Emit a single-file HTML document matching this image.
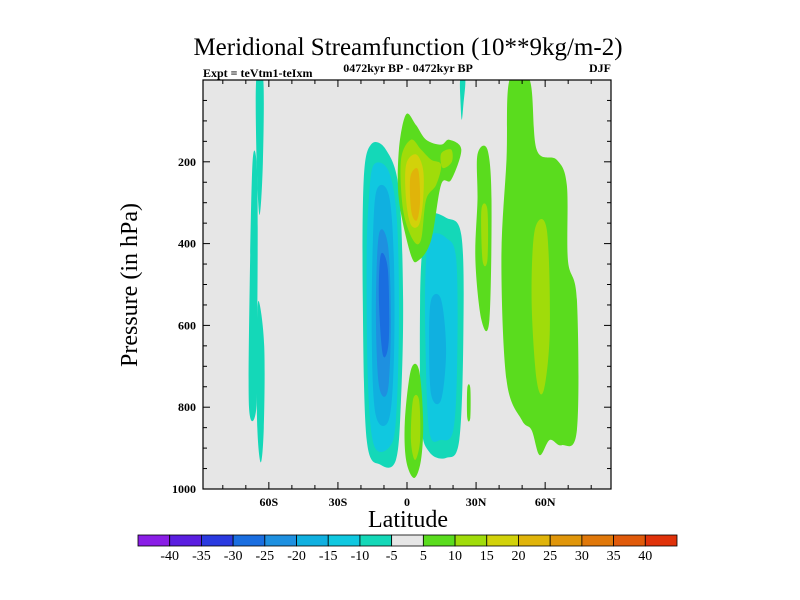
<!DOCTYPE html>
<html><head><meta charset="utf-8">
<style>
body{margin:0;background:#fff;}
svg{display:block;font-family:"Liberation Serif",serif;}
</style></head>
<body>
<svg id="chart" width="800" height="600" viewBox="0 0 800 600">
<text x="408" y="55" text-anchor="middle" font-size="25">Meridional Streamfunction (10**9kg/m-2)</text>
<text x="203" y="77" font-size="12" font-weight="bold">Expt = teVtm1-teIxm</text>
<text x="408" y="72" text-anchor="middle" font-size="12" font-weight="bold">0472kyr BP - 0472kyr BP</text>
<text x="611" y="72" text-anchor="end" font-size="12" font-weight="bold">DJF</text>
<rect x="203" y="80" width="408" height="409" fill="#e6e6e6"/>
<g id="fills"></g>
<rect x="203" y="80" width="408" height="409" fill="none" stroke="#000" stroke-width="1.2"/>
<g id="axes"></g>
<text x="408" y="527" text-anchor="middle" font-size="24">Latitude</text>
<text transform="translate(137,285) rotate(-90)" text-anchor="middle" font-size="24">Pressure (in hPa)</text>
<g id="colorbar"></g>
</svg>
<script>
const levelColors=["#8a1ee6","#5a1ee0","#2a3ae0","#1a6ee0","#1e90e0","#10b0e0","#10c8e0","#14d8b8","#e6e6e6","#5adc1e","#a0dc0a","#d2d20a","#e0b40a","#e0960a","#e0780a","#e05a0a","#e0320a"];
const levelLabels=["-40","-35","-30","-25","-20","-15","-10","-5","5","10","15","20","25","30","35","40"];
const xTickLats=[-60,-30,0,30,60];
const xTickLabels=["60S","30S","0","30N","60N"];
const yTickVals=[200,400,600,800,1000];
// contour regions: level index into levelColors, polygon of [lat, pressure]
const regionLevels=[7,7,7,7,9,
 7,6,5,4,3,
 7,6,5,
 9,10,11,12,10,
 9,10,
 9,10,
 9,10];
const regionPolys=[
 [[-65.5,0],[-62.4,0],[-62.6,200],[-64,330],[-65.3,200]],
 [[-67,195],[-65,240],[-65,600],[-65.5,805],[-68.6,800],[-68.3,500]],
 [[-64.5,540],[-62,650],[-62.2,850],[-63.5,935],[-65,850],[-65.3,650]],
 [[23.1,0],[25.3,0],[24.5,60],[23.8,97],[23.3,60]],
 [[26.2,753],[27.5,753],[27.5,826],[26.2,826]],
 [[-15.7,158],[-9.2,170],[-3.5,268],[-1.7,537],[-2.6,782],[-4.8,929],[-11.4,941],[-17.5,880],[-19.2,537],[-18.8,244]],
 [[-14.4,207],[-7.9,224],[-4.4,341],[-3.5,586],[-4.8,831],[-7.9,899],[-14.4,892],[-17,734],[-17.5,440],[-16.6,293]],
 [[-13.1,268],[-7.9,281],[-5.7,440],[-5.7,684],[-7.9,831],[-13.6,819],[-15.3,636],[-14.8,391]],
 [[-12.2,378],[-8.3,403],[-7,586],[-8.3,758],[-12.2,746],[-13.5,562]],
 [[-11.4,427],[-8.3,464],[-7.9,636],[-10.5,672],[-12.2,537]],
 [[9.6,329],[17,337],[23.6,379],[24.5,611],[22.7,880],[17,924],[9.6,909],[6.1,831],[5.7,537],[7,391]],
 [[10.5,379],[17,386],[21.4,440],[21.8,684],[20.1,856],[14.8,880],[9.6,856],[7.9,611],[8.3,440]],
 [[10.5,537],[14.8,537],[17,660],[14.8,782],[10.5,770],[9.6,636]],
 [[-3.5,170],[-0.4,84],[3.9,110],[8.3,146],[14.8,158],[18.3,146],[23.6,170],[19.2,244],[14.8,256],[10.5,391],[5.2,440],[1.7,428],[-3.5,293]],
 [[-2.6,195],[1.7,146],[6.1,170],[10.5,195],[14.8,207],[12.7,256],[8.3,293],[6.1,391],[2.6,391],[-1.7,317]],
 [[-0.4,207],[3.9,182],[7,219],[7,293],[5.2,354],[1.7,354],[-0.4,293]],
 [[1.7,231],[4.8,219],[5.7,293],[4.4,342],[2.2,330],[1.3,280]],
 [[14.8,180],[19.2,170],[19.5,200],[15.5,215]],
 [[1.7,709],[5.2,709],[7,831],[6.1,929],[3.1,973],[-0.4,929],[-0.9,831]],
 [[2.6,782],[5.2,782],[5.7,880],[3.5,929],[1.7,880]],
 [[30.6,182],[34.9,170],[36.7,293],[35.8,586],[32.3,586],[29.7,440],[30.6,293]],
 [[32.3,317],[34.9,317],[34.9,440],[32.8,440]],
 [[44.5,0],[53.3,0],[56.3,170],[65,195],[69.4,256],[69.9,440],[73.8,537],[73.8,856],[67.2,893],[62,880],[57.6,917],[54.1,856],[49.8,831],[43.2,733],[41,440],[43.2,195]],
 [[55.5,366],[60.7,366],[62,611],[59.4,758],[56.3,733],[54.1,537]]
];
const NS="http://www.w3.org/2000/svg";
const X0=203,X1=611,Y0=80,Y1=489,LATMIN=-88.6,LATMAX=88.6;
function xs(lat){return X0+(lat-LATMIN)/(LATMAX-LATMIN)*(X1-X0);}
function ys(p){return Y0+p/1000*(Y1-Y0);}
function smoothPath(pts){
 const n=pts.length;let d="M"+pts[0][0].toFixed(1)+","+pts[0][1].toFixed(1);
 for(let i=0;i<n;i++){
  const p0=pts[(i-1+n)%n],p1=pts[i],p2=pts[(i+1)%n],p3=pts[(i+2)%n];
  const c1=[p1[0]+(p2[0]-p0[0])/6,p1[1]+(p2[1]-p0[1])/6];
  const c2=[p2[0]-(p3[0]-p1[0])/6,p2[1]-(p3[1]-p1[1])/6];
  d+=" C"+c1[0].toFixed(1)+","+c1[1].toFixed(1)+" "+c2[0].toFixed(1)+","+c2[1].toFixed(1)+" "+p2[0].toFixed(1)+","+p2[1].toFixed(1);
 }
 return d+"Z";
}
const fills=document.getElementById('fills');
const clip=document.createElementNS(NS,'clipPath');clip.setAttribute('id','pc');
const cr=document.createElementNS(NS,'rect');cr.setAttribute('x',X0);cr.setAttribute('y',Y0);cr.setAttribute('width',X1-X0);cr.setAttribute('height',Y1-Y0);
clip.appendChild(cr);fills.appendChild(clip);fills.setAttribute('clip-path','url(#pc)');
regionPolys.forEach((poly,i)=>{
 const path=document.createElementNS(NS,'path');
 path.setAttribute('d',smoothPath(poly.map(q=>[xs(q[0]),ys(q[1])])));
 path.setAttribute('fill',levelColors[regionLevels[i]]);
 
 
 fills.appendChild(path);
});
const axes=document.getElementById('axes');
function line(x1,y1,x2,y2,name){const l=document.createElementNS(NS,'line');l.setAttribute('x1',x1);l.setAttribute('y1',y1);l.setAttribute('x2',x2);l.setAttribute('y2',y2);l.setAttribute('stroke','#000');l.setAttribute('stroke-width','1');
 
 
 axes.appendChild(l);}
function text(x,y,s,anchor,size,name,parent){const t=document.createElementNS(NS,'text');t.setAttribute('x',x);t.setAttribute('y',y);t.setAttribute('text-anchor',anchor);t.setAttribute('font-size',size);t.setAttribute('font-weight','bold');t.textContent=s;
 
 
 parent.appendChild(t);}
for(let lat=-80;lat<=80;lat+=10){const x=xs(lat);const major=lat%30===0;line(x,Y1,x,Y1-(major?7:4),'x-tick');line(x,Y0,x,Y0+(major?7:4),'x-tick');}
xTickLats.forEach((lat,i)=>text(xs(lat),506,xTickLabels[i],'middle',12,'x-tick-label',axes));
for(let p=50;p<=1000;p+=50){const y=ys(p);const major=p%200===0;line(X0,y,X0+(major?7:4),y,'y-tick');line(X1,y,X1-(major?7:4),y,'y-tick');}
yTickVals.forEach(v=>text(196,ys(v)+4,String(v),'end',12,'y-tick-label',axes));
const cb=document.getElementById('colorbar');
const CBX=138,CBW=539,CBY=535,CBH=11,nb=levelColors.length,bw=CBW/nb;
levelColors.forEach((c,i)=>{const r=document.createElementNS(NS,'rect');r.setAttribute('x',CBX+i*bw);r.setAttribute('y',CBY);r.setAttribute('width',bw);r.setAttribute('height',CBH);r.setAttribute('fill',c);r.setAttribute('stroke','#000');r.setAttribute('stroke-width','0.8');
 
 
 cb.appendChild(r);});
levelLabels.forEach((s,i)=>{const t=document.createElementNS(NS,'text');t.setAttribute('x',CBX+(i+1)*bw);t.setAttribute('y',CBY+CBH+14);t.setAttribute('text-anchor','middle');t.setAttribute('font-size','14');t.textContent=s;
 
 
 cb.appendChild(t);});
</script>
</body></html>
